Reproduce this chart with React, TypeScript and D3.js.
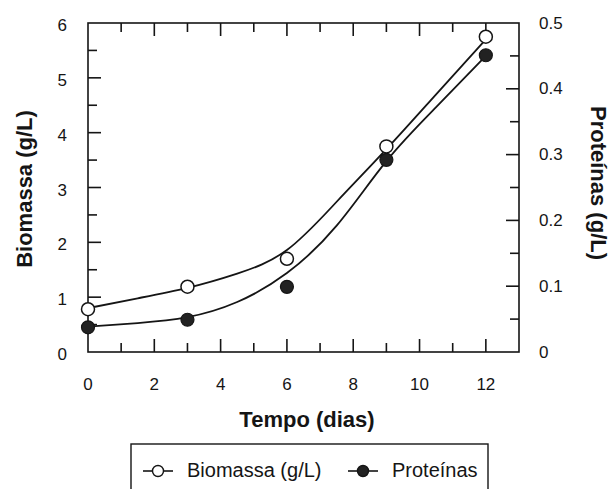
import React, { useEffect, useRef } from 'react';
import * as d3 from 'd3';

// measured points
const days = [0, 3, 6, 9, 12];
const biomassa = [0.78, 1.19, 1.7, 3.75, 5.75];
const proteinas = [0.0375, 0.049, 0.099, 0.292, 0.451];

// fitted curves
const fitDays = [0, 1.5, 3, 4.5, 6, 7.5, 9, 10.5, 12];
const biomassaFit = [0.8, 0.98, 1.17, 1.43, 1.86, 2.74, 3.7, 4.7, 5.7];
const proteinasFit = [0.0385, 0.044, 0.053, 0.076, 0.12, 0.192, 0.29, 0.372, 0.45];

const xTicks = [0, 2, 4, 6, 8, 10, 12];
const yLeftTicks = [0, 1, 2, 3, 4, 5, 6];
const yRightTicks = [0, 0.1, 0.2, 0.3, 0.4, 0.5];

export default function App() {
  const svgRef = useRef<SVGSVGElement>(null);

  useEffect(() => {
    if (!svgRef.current) return;
    const svg = d3.select(svgRef.current);
    svg.selectAll('*').remove();

    const width = 616;
    const height = 489;
    const margin = { top: 23, right: 97, bottom: 137, left: 88 };
    const x0 = margin.left;
    const x1 = width - margin.right;
    const y0 = height - margin.bottom;
    const y1 = margin.top;
    const font = "'Liberation Sans', Arial, sans-serif";
    const ink = '#151515';

    const x = d3.scaleLinear().domain([0, 13]).range([x0, x1]);
    const yL = d3.scaleLinear().domain([0, 6]).range([y0, y1]);
    const yR = d3.scaleLinear().domain([0, 0.5]).range([y0, y1]);

    svg.append('rect').attr('width', width).attr('height', height).attr('fill', '#fff');

    // frame
    svg.append('rect')
      .attr('x', x0).attr('y', y1)
      .attr('width', x1 - x0).attr('height', y0 - y1)
      .attr('fill', 'none').attr('stroke', ink).attr('stroke-width', 1.6);

    const ticks = svg.append('g').attr('stroke', ink).attr('stroke-width', 1.6);

    // x ticks, bottom and top, inward
    d3.range(1, 13).forEach((t) => {
      const len = t % 2 === 0 ? 13 : 9;
      ticks.append('line').attr('x1', x(t)).attr('x2', x(t)).attr('y1', y0).attr('y2', y0 - len);
      ticks.append('line').attr('x1', x(t)).attr('x2', x(t)).attr('y1', y1).attr('y2', y1 + len);
    });

    // left ticks
    d3.range(1, 12).forEach((i) => {
      const v = i * 0.5;
      const len = i % 2 === 0 ? 13 : 9;
      ticks.append('line').attr('x1', x0).attr('x2', x0 + len).attr('y1', yL(v)).attr('y2', yL(v));
    });

    // right ticks
    d3.range(1, 10).forEach((i) => {
      const v = i * 0.05;
      const len = i % 2 === 0 ? 13 : 9;
      ticks.append('line').attr('x1', x1).attr('x2', x1 - len).attr('y1', yR(v)).attr('y2', yR(v));
    });

    const labels = svg.append('g')
      .attr('font-family', font).attr('font-size', 17).attr('fill', ink);

    xTicks.forEach((t) => {
      labels.append('text').attr('x', x(t)).attr('y', 389.5)
        .attr('text-anchor', 'middle').text(t);
    });
    yLeftTicks.forEach((v) => {
      labels.append('text').attr('x', 67).attr('y', yL(v) + 8)
        .attr('text-anchor', 'end').text(v);
    });
    yRightTicks.forEach((v) => {
      labels.append('text').attr('x', 539).attr('y', yR(v) + 5.5)
        .attr('text-anchor', 'start').text(v === 0 ? '0' : d3.format('.1f')(v));
    });

    // titles
    svg.append('text')
      .attr('x', 307).attr('y', 427)
      .attr('text-anchor', 'middle')
      .attr('font-family', font).attr('font-size', 22).attr('font-weight', 'bold')
      .attr('fill', ink).text('Tempo (dias)');

    svg.append('text')
      .attr('transform', 'translate(32,189) rotate(-90)')
      .attr('text-anchor', 'middle')
      .attr('font-family', font).attr('font-size', 22).attr('font-weight', 'bold')
      .attr('fill', ink).text('Biomassa (g/L)');

    svg.append('text')
      .attr('transform', 'translate(591,183) rotate(90)')
      .attr('text-anchor', 'middle')
      .attr('font-family', font).attr('font-size', 22).attr('font-weight', 'bold')
      .attr('fill', ink).text('Proteínas (g/L)');

    // fitted curves
    const lineL = d3.line<number>()
      .x((_, i) => x(fitDays[i]))
      .y((d) => yL(d))
      .curve(d3.curveNatural);
    const lineR = d3.line<number>()
      .x((_, i) => x(fitDays[i]))
      .y((d) => yR(d))
      .curve(d3.curveNatural);

    svg.append('path').attr('d', lineL(biomassaFit))
      .attr('fill', 'none').attr('stroke', ink).attr('stroke-width', 1.8);
    svg.append('path').attr('d', lineR(proteinasFit))
      .attr('fill', 'none').attr('stroke', ink).attr('stroke-width', 1.8);

    // points
    svg.append('g').selectAll('circle')
      .data(days)
      .join('circle')
      .attr('cx', (d) => x(d))
      .attr('cy', (_, i) => yR(proteinas[i]))
      .attr('r', 6.5)
      .attr('fill', '#222').attr('stroke', ink).attr('stroke-width', 1.2);

    svg.append('g').selectAll('circle')
      .data(days)
      .join('circle')
      .attr('cx', (d) => x(d))
      .attr('cy', (_, i) => yL(biomassa[i]))
      .attr('r', 6.5)
      .attr('fill', '#fff').attr('stroke', ink).attr('stroke-width', 1.5);

    // legend
    const lg = svg.append('g');
    lg.append('rect')
      .attr('x', 131).attr('y', 444).attr('width', 357).attr('height', 60)
      .attr('fill', 'none').attr('stroke', ink).attr('stroke-width', 1.4);

    const items = [
      { label: 'Biomassa (g/L)', fill: '#fff', x: 143 },
      { label: 'Proteínas', fill: '#222', x: 348 },
    ];
    items.forEach((it) => {
      lg.append('line')
        .attr('x1', it.x).attr('x2', it.x + 30).attr('y1', 471).attr('y2', 471)
        .attr('stroke', ink).attr('stroke-width', 1.6);
      lg.append('circle')
        .attr('cx', it.x + 15).attr('cy', 471).attr('r', 5.5)
        .attr('fill', it.fill).attr('stroke', ink).attr('stroke-width', 1.4);
      lg.append('text')
        .attr('x', it.x + 44).attr('y', 477)
        .attr('font-family', font).attr('font-size', 20).attr('fill', ink)
        .text(it.label);
    });
  }, []);

  return (
    <svg
      ref={svgRef}
      width={616}
      height={489}
      style={{ position: 'absolute', left: 0, top: 0, display: 'block' }}
    />
  );
}
